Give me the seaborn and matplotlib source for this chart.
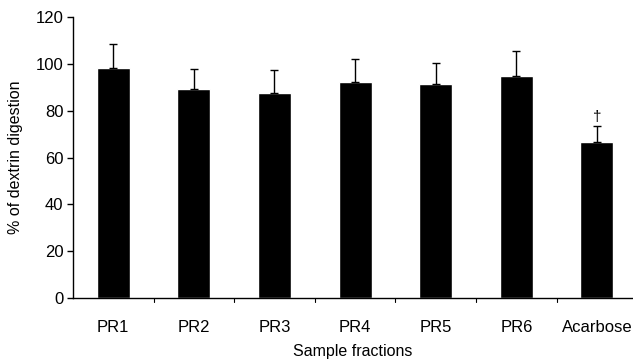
import matplotlib
matplotlib.use("Agg")
import matplotlib.pyplot as plt
import seaborn as sns
import pandas as pd
import numpy as np

categories = ["PR1", "PR2", "PR3", "PR4", "PR5", "PR6", "Acarbose"]
values = [98.3, 89.1, 87.4, 92.1, 91.4, 94.9, 66.6]
errors = [10.2, 8.7, 10.0, 9.8, 9.1, 10.7, 6.7]
yticks = [0, 20, 40, 60, 80, 100, 120]

sns.set_theme(style="white")
plt.rcParams["font.family"] = ["Liberation Sans", "DejaVu Sans"]
plt.rcParams["text.color"] = "black"
plt.rcParams["axes.labelcolor"] = "black"
plt.rcParams["xtick.color"] = "black"
plt.rcParams["ytick.color"] = "black"

df = pd.DataFrame({"cat": categories, "val": values})

fig = plt.figure(figsize=(6.33, 3.63), dpi=100)
ax = fig.add_axes([0.1153, 0.179, 0.885, 0.774])
sns.barplot(data=df, x="cat", y="val", color="black", width=0.41,
            saturation=1, ax=ax, errorbar=None)
x = np.arange(len(categories))
ax.errorbar(x, values, yerr=[np.zeros(len(errors)), errors], fmt="none",
            ecolor="black", elinewidth=1, capsize=3, capthick=1)
ax.text(6, values[6] + errors[6] + 1.2, "\u2020", ha="center", va="bottom",
        fontsize=11, color="black")

ax.set_ylim(0, 120)
ax.set_xlim(-0.5, 6.45)
ax.set_yticks(yticks)
ax.set_yticklabels([str(t) for t in yticks], fontsize=12)
ax.set_xticks(x)
ax.set_xticklabels(categories, fontsize=12)
ax.tick_params(axis="x", length=0, pad=16)
ax.tick_params(axis="y", length=4, width=1, color="black", direction="out", left=True, pad=3)
# boundary ticks on x axis
for b in np.arange(0.5, 6.0, 1.0):
    ax.plot([b, b], [0, -1.8], color="black", lw=0.8, clip_on=False)

for s in ["top", "right"]:
    ax.spines[s].set_visible(False)
for s in ["left", "bottom"]:
    ax.spines[s].set_color("black")
    ax.spines[s].set_linewidth(1)

ax.set_ylabel("% of dextrin digestion", fontsize=11.5, labelpad=9)
ax.set_xlabel("Sample fractions", fontsize=11.5, labelpad=6)

fig.savefig("out.png", dpi=100)
